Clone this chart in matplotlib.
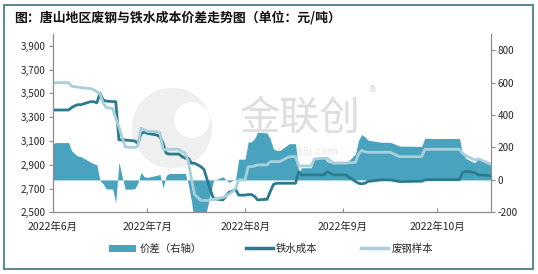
import matplotlib
matplotlib.use('Agg')
import matplotlib.pyplot as plt
from matplotlib.patches import Patch, Rectangle, Ellipse
from matplotlib.lines import Line2D
from matplotlib.ticker import FuncFormatter
import pandas as pd

plt.rcParams['font.family'] = ['Noto Sans CJK SC', 'DejaVu Sans']

dates = ['2022-06-01', '2022-06-02', '2022-06-06', '2022-06-07', '2022-06-08', '2022-06-09',
         '2022-06-10', '2022-06-13', '2022-06-14', '2022-06-15', '2022-06-16', '2022-06-17',
         '2022-06-18', '2022-06-20', '2022-06-21', '2022-06-22', '2022-06-23', '2022-06-24',
         '2022-06-27', '2022-06-28', '2022-06-29', '2022-06-30', '2022-07-01', '2022-07-04',
         '2022-07-05', '2022-07-06', '2022-07-07', '2022-07-08', '2022-07-11', '2022-07-12',
         '2022-07-13', '2022-07-14', '2022-07-15', '2022-07-16', '2022-07-18', '2022-07-19',
         '2022-07-20', '2022-07-21', '2022-07-22', '2022-07-25', '2022-07-26', '2022-07-27',
         '2022-07-28', '2022-07-29', '2022-07-30', '2022-08-01', '2022-08-02', '2022-08-03',
         '2022-08-04', '2022-08-05', '2022-08-08', '2022-08-09', '2022-08-10', '2022-08-11',
         '2022-08-12', '2022-08-15', '2022-08-17', '2022-08-18', '2022-08-19', '2022-08-22',
         '2022-08-23', '2022-08-26', '2022-08-27', '2022-08-29', '2022-09-02', '2022-09-05',
         '2022-09-06', '2022-09-07', '2022-09-08', '2022-09-09', '2022-09-13', '2022-09-16',
         '2022-09-19', '2022-09-26', '2022-09-27', '2022-09-30', '2022-10-08', '2022-10-09',
         '2022-10-10', '2022-10-11', '2022-10-12', '2022-10-13', '2022-10-14', '2022-10-17',
         '2022-10-18']

scrap = [3584, 3590, 3590, 3560, 3556, 3552,
         3548, 3540, 3530, 3514, 3495, 3420,
         3380, 3374, 3290, 3220, 3130, 3050,
         3045, 3060, 3206, 3195, 3180, 3178,
         3170, 3030, 3025, 3030, 3030, 3010,
         2997, 2930, 2780, 2650, 2600, 2600,
         2600, 2605, 2610, 2625, 2640, 2655,
         2675, 2700, 2773, 2773, 2884, 2884,
         2890, 2899, 2899, 2926, 2926, 2926,
         2926, 2968, 2968, 2890, 2890, 2890,
         2950, 2955, 2955, 2915, 2915, 2920,
         2990, 3020, 3010, 3005, 3005, 3005,
         2968, 2968, 3030, 3030, 3030, 2997,
         2975, 2965, 2950, 2940, 2950, 2915,
         2905]

hot_metal = [3360, 3360, 3360, 3380, 3395, 3405,
             3405, 3430, 3430, 3420, 3500, 3444,
             3435, 3430, 3430, 3110, 3108, 3108,
             3100, 3080, 3160, 3175, 3164, 3150,
             3136, 3080, 2997, 2990, 2990, 2970,
             2955, 2955, 2913, 2913, 2884, 2860,
             2773, 2689, 2615, 2605, 2640, 2670,
             2680, 2695, 2645, 2645, 2650, 2650,
             2635, 2605, 2610, 2675, 2735, 2745,
             2745, 2745, 2745, 2842, 2815, 2815,
             2815, 2815, 2842, 2815, 2815, 2760,
             2745, 2740, 2745, 2760, 2773, 2773,
             2759, 2762, 2773, 2775, 2775, 2835,
             2842, 2842, 2838, 2832, 2815, 2812,
             2805]

spread = [224, 230, 230, 180, 161, 147,
          143, 110, 100, 94, -5, -24,
          -55, -56, -140, 110, 22, -58,
          -55, -20, 46, 20, 16, 28,
          34, -50, 28, 40, 40, 40,
          42, -25, -133, -263, -284, -260,
          -173, -84, -5, 20, 0, -15,
          -5, 5, 128, 128, 234, 234,
          255, 294, 289, 251, 191, 181,
          181, 223, 223, 48, 75, 75,
          135, 140, 113, 100, 100, 160,
          245, 280, 265, 245, 232, 232,
          209, 206, 257, 255, 255, 162,
          133, 123, 112, 108, 135, 103,
          100]

month_ticks = ['2022-06-01', '2022-07-01', '2022-08-01', '2022-09-01', '2022-10-01']
month_labels = ['2022年6月', '2022年7月', '2022年8月', '2022年9月', '2022年10月']
left_ticks = [2500, 2700, 2900, 3100, 3300, 3500, 3700, 3900]
right_ticks = [-200, 0, 200, 400, 600, 800]
series_names = ['价差（右轴）', '铁水成本', '废钢样本']
title = '图：唐山地区废钢与铁水成本价差走势图（单位：元/吨）'

c_fill = '#4AA3BE'
c_hot = '#2B7B8E'
c_scrap = '#A7D0DC'
c_axis = '#8C8C8C'
c_text = '#262626'

x = pd.to_datetime(dates)

W, H = 538, 274
fig = plt.figure(figsize=(W / 100, H / 100), dpi=100)
fig.patch.set_facecolor('white')

# frame around the whole picture
fig.add_artist(Rectangle((4 / W, 1 - 269 / H), 529 / W, 264 / H, transform=fig.transFigure,
                         fill=False, edgecolor='#4A8088', linewidth=1.3))

fig.text(14 / W, 1 - 18 / H, title, fontsize=9.3, fontweight='bold', color='#111111',
         ha='left', va='center')

# watermark
fig.add_artist(Ellipse((172, H - 128), 80, 80, transform=None, facecolor='#EFEFEF',
                       edgecolor='none', zorder=-2))
fig.add_artist(Ellipse((192, H - 120), 36, 36, transform=None, facecolor='white',
                       edgecolor='none', zorder=-2))
fig.text(300 / W, 1 - 118 / H, '金联创', fontsize=29, color='#DEDEDE', ha='center',
         va='center', zorder=-1)
fig.text(372 / W, 1 - 93 / H, '®', fontsize=11, color='#DEDEDE', ha='center',
         va='center', zorder=-1)
fig.text(300 / W, 1 - 152 / H, 'www.315i.com', fontsize=8, color='#E4E4E4', ha='center',
         va='center', zorder=-1)

left, right, bottom, top = 52.7 / W, 491 / W, 1 - 212.4 / H, 1 - 33.8 / H
ax = fig.add_axes([left, bottom, right - left, top - bottom])
ax2 = ax.twinx()
ax.set_zorder(2)
ax2.set_zorder(1)
ax.patch.set_visible(False)
ax2.patch.set_visible(False)

ax2.fill_between(x, 0, spread, color=c_fill, linewidth=0)
ax.plot(x, hot_metal, color=c_hot, linewidth=2.0, solid_joinstyle='round')
ax.plot(x, scrap, color=c_scrap, linewidth=2.0, solid_joinstyle='round')

ax.set_ylim(2500, 4000)
ax2.set_ylim(-200, 900)
ax.set_xlim(pd.Timestamp('2022-06-01'), pd.Timestamp('2022-10-18'))

ax.set_yticks(left_ticks)
ax.yaxis.set_major_formatter(FuncFormatter(lambda v, p: f'{int(v):,}'))
ax2.set_yticks(right_ticks)
ax2.yaxis.set_major_formatter(FuncFormatter(lambda v, p: f'{int(v)}'))

ax.set_xticks(pd.to_datetime(month_ticks))
ax.set_xticklabels(month_labels)

for a in (ax, ax2):
    for s in a.spines.values():
        s.set_visible(False)
ax.spines['left'].set_visible(True)
ax.spines['bottom'].set_visible(True)
ax2.spines['right'].set_visible(True)
for s in (ax.spines['left'], ax.spines['bottom'], ax2.spines['right']):
    s.set_color(c_axis)
    s.set_linewidth(0.9)

ax.tick_params(axis='y', direction='out', length=3, width=0.8, color=c_axis,
               labelsize=7.2, labelcolor=c_text, pad=2)
ax2.tick_params(axis='y', direction='out', length=3, width=0.8, color=c_axis,
                labelsize=7.2, labelcolor=c_text, pad=2)
ax.tick_params(axis='x', direction='in', length=3, width=0.8, color=c_axis,
               labelsize=7.5, labelcolor=c_text, pad=7)

handles = [Patch(facecolor=c_fill, edgecolor='none'),
           Line2D([], [], color=c_hot, linewidth=2.5),
           Line2D([], [], color=c_scrap, linewidth=2.5)]
fig.legend(handles, series_names, loc='center', bbox_to_anchor=(271 / W, 1 - 249 / H),
           ncol=3, frameon=False, fontsize=7.5, handlelength=2.6, handleheight=0.7,
           columnspacing=4.2, handletextpad=0.3, labelcolor=c_text)

fig.savefig('out.png', dpi=100, facecolor='white')
